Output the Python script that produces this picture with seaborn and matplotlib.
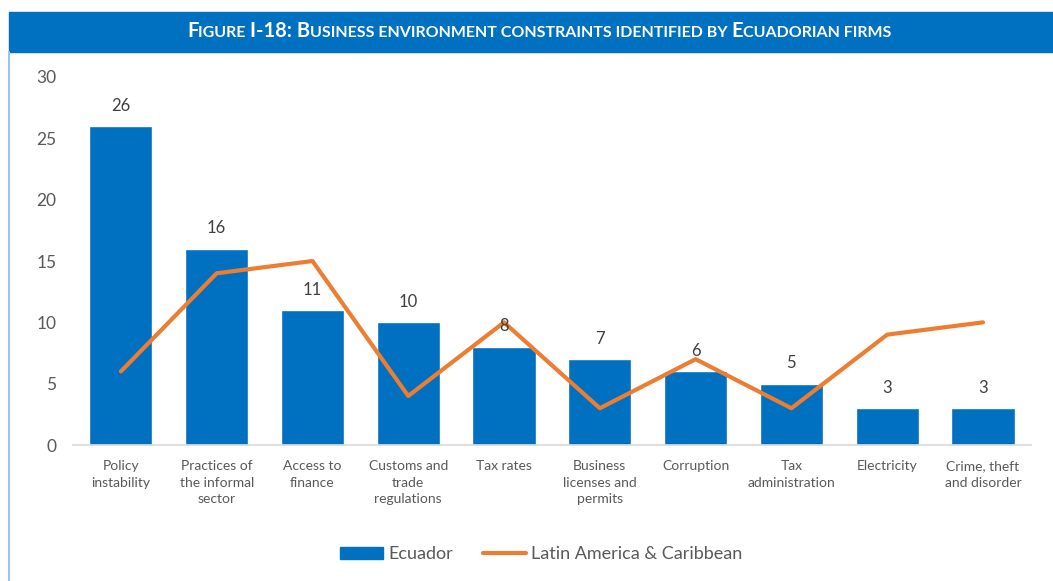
import numpy as np
import pandas as pd
import matplotlib
matplotlib.use("Agg")
import matplotlib.pyplot as plt
import seaborn as sns
from matplotlib.patches import Rectangle
from matplotlib.lines import Line2D

categories = ["Policy\ninstability", "Practices of\nthe informal\nsector", "Access to\nfinance",
              "Customs and\ntrade\nregulations", "Tax rates", "Business\nlicenses and\npermits",
              "Corruption", "Tax\nadministration", "Electricity", "Crime, theft\nand disorder"]
ecuador = [26, 16, 11, 10, 8, 7, 6, 5, 3, 3]
lac = [6, 14, 15, 4, 10, 3, 7, 3, 9, 10]

BLUE = "#0070C0"
ORANGE = "#ED7D31"
GREY = "#595959"

sns.set_theme(style="white")
plt.rcParams['font.family'] = ['Lato', 'DejaVu Sans']

fig = plt.figure(figsize=(10.53, 5.81), dpi=100)
ax = fig.add_axes([0.0693, 0.234, 0.9097, 0.6335])

df = pd.DataFrame({"cat": categories, "ecuador": ecuador, "lac": lac})
sns.barplot(data=df, x="cat", y="ecuador", color=BLUE, saturation=1, width=0.66, ax=ax)
sns.lineplot(x=np.arange(len(lac)), y=df["lac"], color=ORANGE, linewidth=3, ax=ax)
ax.lines[-1].set_solid_capstyle("round")

ax.bar_label(ax.containers[0], padding=9, fontsize=12, color="#404040")

ax.set_xlim(-0.5, len(categories) - 0.5)
ax.set_ylim(0, 30)
ax.set_yticks(range(0, 31, 5))
ax.set_xticks(range(len(categories)))
ax.set_xticklabels(categories, linespacing=1.45)
ax.set_xlabel("")
ax.set_ylabel("")
ax.tick_params(axis="y", labelsize=12.5, labelcolor=GREY, length=0, pad=12)
ax.tick_params(axis="x", labelsize=10, labelcolor=GREY, length=0, pad=11)
for s in ["top", "right", "left"]:
    ax.spines[s].set_visible(False)
ax.spines["bottom"].set_color("#D9D9D9")
ax.spines["bottom"].set_linewidth(1.2)

handles = [Rectangle((0, 0), 1, 1, color=BLUE),
           Line2D([0], [0], color=ORANGE, linewidth=3, solid_capstyle="round")]
fig.legend(handles, ["Ecuador", "Latin America & Caribbean"], loc="center",
           bbox_to_anchor=(0.514, 0.046), ncol=2, frameon=False, fontsize=13,
           labelcolor=GREY, handlelength=2.4, handletextpad=0.28, columnspacing=1.65)

# title bar and left border
fig.patches.append(Rectangle((9 / 1053, 1 - 52 / 581), 1, 40 / 581, transform=fig.transFigure,
                             color=BLUE, zorder=0))
fig.lines.append(Line2D([9 / 1053, 9 / 1053], [0, 1 - 52 / 581], transform=fig.transFigure,
                        color="#9DC3E6", linewidth=1.5))

# small-caps title built from pieces laid side by side
pieces = [("F", 14.5), ("IGURE ", 11.5), ("I-18: B", 14.5),
          ("USINESS ENVIRONMENT CONSTRAINTS IDENTIFIED BY ", 11.5), ("E", 14.5),
          ("CUADORIAN FIRMS", 11.5)]
renderer = fig.canvas.get_renderer()
texts, widths = [], []
for txt, size in pieces:
    t = fig.text(0, 1 - 37 / 581, txt, color="white", fontsize=size, fontweight="bold",
                 va="baseline", ha="left")
    texts.append(t)
    widths.append(t.get_window_extent(renderer).width / fig.bbox.width)
x = 539 / 1053 - sum(widths) / 2
for t, w in zip(texts, widths):
    t.set_x(x)
    x += w

fig.savefig("out.png", dpi=100)
